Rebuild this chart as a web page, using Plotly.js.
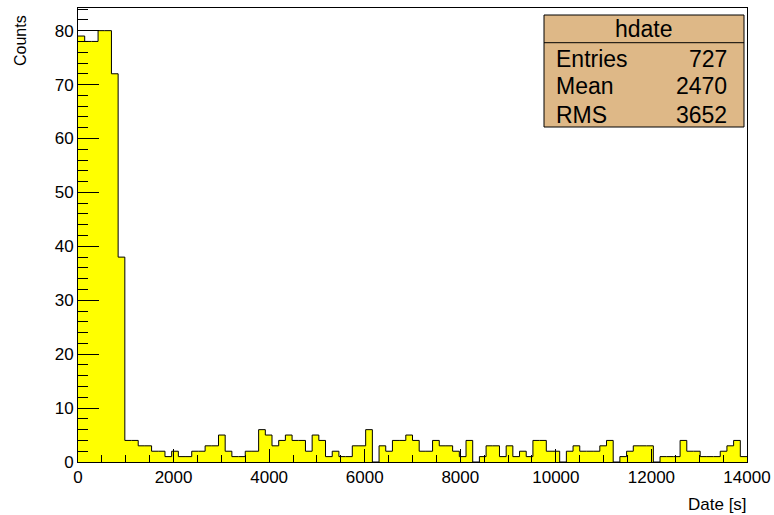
<!DOCTYPE html>
<html>
<head>
<meta charset="utf-8">
<script src="https://cdn.plot.ly/plotly-3.0.1.min.js"></script>
<style>html,body{margin:0;padding:0;background:#fff;}#chart{width:774px;height:515px;}</style>
</head>
<body>
<div id="chart"></div>
<script>
// Histogram "hdate": 100 bins from 0 to 14000 s
const binLow = 0;
const binHigh = 14000;
const counts = [
  79, 78, 78, 80, 80, 72, 38, 4, 4, 3,
  3, 2, 2, 1, 2, 1, 1, 2, 2, 3,
  3, 5, 2, 1, 1, 2, 2, 6, 5, 3,
  4, 5, 4, 4, 2, 5, 4, 1, 2, 1,
  1, 3, 3, 6, 0, 3, 2, 4, 4, 5,
  4, 2, 2, 4, 3, 3, 2, 1, 4, 0,
  1, 3, 3, 1, 3, 1, 2, 1, 4, 4,
  2, 2, 0, 2, 3, 2, 2, 2, 3, 4,
  0, 1, 2, 3, 3, 3, 0, 1, 1, 1,
  4, 2, 2, 1, 1, 1, 2, 3, 4, 1
];
const xTickVals = [0, 2000, 4000, 6000, 8000, 10000, 12000, 14000];
const xTickText = ["0", "2000", "4000", "6000", "8000", "10000", "12000", "14000"];
const yTickVals = [0, 10, 20, 30, 40, 50, 60, 70, 80];
const yTickText = ["0", "10", "20", "30", "40", "50", "60", "70", "80"];
const statsTitle = "hdate";
const statsNames = ["Entries", "Mean", "RMS"];
const statsValues = ["727", "2470", "3652"];
const xTitle = "Date [s]";
const yTitle = "Counts";

const nBins = counts.length;
const bw = (binHigh - binLow) / nBins;
const xs = [], ys = [];
for (let i = 0; i < nBins; i++) { xs.push(binLow + i * bw); ys.push(counts[i]); }
xs.push(binHigh); ys.push(counts[nBins - 1]);

const font = "Liberation Sans, Arial, Helvetica, sans-serif";

const trace = {
  type: "scatter", mode: "lines",
  x: xs, y: ys,
  line: {shape: "hv", color: "#000", width: 1},
  fill: "tozeroy", fillcolor: "#ffff00",
  hoverinfo: "skip", showlegend: false
};

const L = 78, R = 747, T = 8, B = 462;
const W = R - L, H = B - T;
const px = v => (v - L) / W;
const py = v => (B - v) / H;

const boxL = 544, boxR = 744, boxT = 15, boxB = 127, boxSep = 42.7;
const rowY = [58.7, 86.3, 114.5];

const annotations = [
  {text: statsTitle, x: px((boxL + boxR) / 2), y: py(29), xref: "paper", yref: "paper",
   xanchor: "center", yanchor: "middle", showarrow: false, font: {family: font, size: 23, color: "#000"}},
  {text: xTitle, x: px(749), y: py(504), xref: "paper", yref: "paper",
   xanchor: "right", yanchor: "middle", showarrow: false, font: {family: font, size: 17, color: "#000"}},
  {text: yTitle, x: px(20), y: py(41), xref: "paper", yref: "paper", textangle: -90,
   xanchor: "center", yanchor: "middle", showarrow: false, font: {family: font, size: 16, color: "#000"}}
];
statsNames.forEach((n, i) => {
  annotations.push({text: n, x: px(554), y: py(rowY[i]), xref: "paper", yref: "paper",
    xanchor: "left", yanchor: "middle", showarrow: false, font: {family: font, size: 23, color: "#000"}});
  annotations.push({text: statsValues[i], x: px(729), y: py(rowY[i]), xref: "paper", yref: "paper",
    xanchor: "right", yanchor: "middle", showarrow: false, font: {family: font, size: 23, color: "#000"}});
});

const layout = {
  width: 774, height: 515,
  margin: {l: L, r: 774 - R, t: T, b: 515 - B, pad: 0},
  paper_bgcolor: "#fff", plot_bgcolor: "#fff",
  font: {family: font, size: 16, color: "#000"},
  showlegend: false,
  xaxis: {
    range: [binLow, binHigh], tickmode: "array", tickvals: xTickVals, ticktext: xTickText,
    ticks: "inside", ticklen: 13, tickcolor: "#000", tickwidth: 1,
    minor: {dtick: 500, tick0: 0, ticks: "inside", ticklen: 7, tickcolor: "#000"},
    showgrid: false, zeroline: false,
    showline: true, linecolor: "#000", linewidth: 1, mirror: true,
    tickfont: {family: font, size: 17, color: "#000"}
  },
  yaxis: {
    range: [0, 84.2], tickmode: "array", tickvals: yTickVals, ticktext: yTickText,
    ticks: "inside", ticklen: 21, tickcolor: "#000", tickwidth: 1,
    minor: {dtick: 2, tick0: 0, ticks: "inside", ticklen: 10, tickcolor: "#000"},
    showgrid: false, zeroline: false,
    showline: true, linecolor: "#000", linewidth: 1, mirror: true,
    tickfont: {family: font, size: 17, color: "#000"}
  },
  shapes: [
    {type: "rect", xref: "paper", yref: "paper", x0: px(boxL), x1: px(boxR), y0: py(boxB), y1: py(boxT),
     fillcolor: "#deb887", line: {color: "#000", width: 1}, layer: "above"},
    {type: "line", xref: "paper", yref: "paper", x0: px(boxL), x1: px(boxR), y0: py(boxSep), y1: py(boxSep),
     line: {color: "#000", width: 1}, layer: "above"}
  ],
  annotations: annotations
};

Plotly.newPlot("chart", [trace], layout, {displayModeBar: false, staticPlot: true});
</script>
</body>
</html>
